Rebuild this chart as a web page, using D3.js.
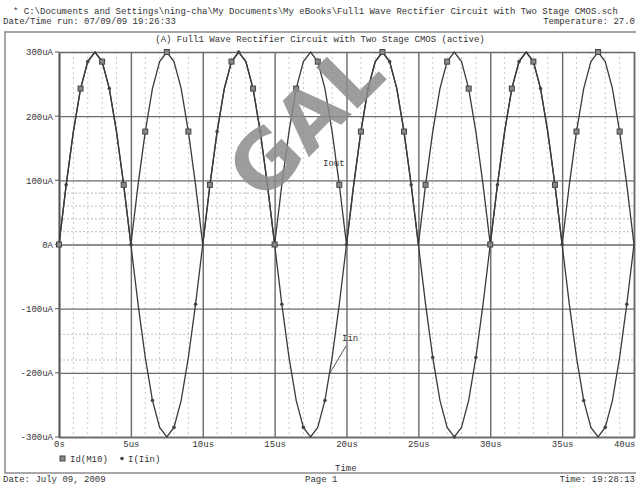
<!DOCTYPE html>
<html>
<head>
<meta charset="utf-8">
<script src="https://cdn.jsdelivr.net/npm/d3@7"></script>
<style>
  body { margin: 0; background: #fff; }
  text { font-family: "Liberation Mono", "DejaVu Sans Mono", monospace; font-size: 9px; fill: #333; }
</style>
</head>
<body>
<svg id="chart" width="636" height="484"></svg>
<script>
// simulation samples, time in us, currents in uA
var timeUs = [0,0.5,1,1.5,2,2.5,3,3.5,4,4.5,5,5.5,6,6.5,7,7.5,8,8.5,9,9.5,
  10,10.5,11,11.5,12,12.5,13,13.5,14,14.5,15,15.5,16,16.5,17,17.5,18,18.5,19,19.5,
  20,20.5,21,21.5,22,22.5,23,23.5,24,24.5,25,25.5,26,26.5,27,27.5,28,28.5,29,29.5,
  30,30.5,31,31.5,32,32.5,33,33.5,34,34.5,35,35.5,36,36.5,37,37.5,38,38.5,39,39.5,40];

var iin = [0,93,176,243,285,300,285,243,176,93,0,-93,-176,-243,-285,-300,-285,-243,-176,-93,
  0,93,176,243,285,300,285,243,176,93,0,-93,-176,-243,-285,-300,-285,-243,-176,-93,
  0,93,176,243,285,300,285,243,176,93,0,-93,-176,-243,-285,-300,-285,-243,-176,-93,
  0,93,176,243,285,300,285,243,176,93,0,-93,-176,-243,-285,-300,-285,-243,-176,-93,0];

var iout = [0,93,176,243,285,300,285,243,176,93,0,93,176,243,285,300,285,243,176,93,
  0,93,176,243,285,300,285,243,176,93,0,93,176,243,285,300,285,243,176,93,
  0,93,176,243,285,300,285,243,176,93,0,93,176,243,285,300,285,243,176,93,
  0,93,176,243,285,300,285,243,176,93,0,93,176,243,285,300,285,243,176,93,0];

var xTicks = [0,5,10,15,20,25,30,35,40];
var xTickLabels = ["0s","5us","10us","15us","20us","25us","30us","35us","40us"];
var yTicks = [-300,-200,-100,0,100,200,300];
var yTickLabels = ["-300uA","-200uA","-100uA","0A","100uA","200uA","300uA"];
var yMinorTicks = [20,40,60,80,-140,-180];

var svg = d3.select("#chart");

var x = d3.scaleLinear().domain([0, 40]).range([59, 634]);
var y = d3.scaleLinear().domain([-300, 300]).range([437, 52]);

// header texts
svg.append("text").attr("x", 13).attr("y", 14)
    .text("* C:\\Documents and Settings\\ning-cha\\My Documents\\My eBooks\\Full1 Wave Rectifier Circuit with Two Stage CMOS.sch");
svg.append("text").attr("x", 3).attr("y", 24).text("Date/Time run: 07/09/09 19:26:33");
svg.append("text").attr("x", 635).attr("y", 24).attr("text-anchor", "end").text("Temperature: 27.0");

// outer frame
svg.append("rect")
    .attr("x", 5).attr("y", 32)
    .attr("width", 640).attr("height", 441)
    .attr("fill", "none")
    .attr("stroke", "#8a8a8a")
    .attr("stroke-width", 1.5);

svg.append("text").attr("x", 320).attr("y", 42).attr("text-anchor", "middle")
    .text("(A) Full1 Wave Rectifier Circuit with Two Stage CMOS (active)");

// minor dotted grid
var minorX = [];
for (var t = 1; t < 40; t++) { if (t % 5 != 0) minorX.push(t); }

svg.append("g").selectAll("line")
    .data(minorX)
    .enter().append("line")
    .attr("x1", d => x(d)).attr("x2", d => x(d))
    .attr("y1", y(300)).attr("y2", y(-300))
    .attr("stroke", "#c8c8c8")
    .attr("stroke-dasharray", "2,3");

svg.append("g").selectAll("line")
    .data(yMinorTicks)
    .enter().append("line")
    .attr("x1", x(0)).attr("x2", x(40))
    .attr("y1", d => y(d)).attr("y2", d => y(d))
    .attr("stroke", "#bdbdbd")
    .attr("stroke-dasharray", "2,2");

// major grid + axes
var xAxis = d3.axisBottom(x)
    .tickValues(xTicks)
    .tickFormat((d, i) => xTickLabels[i])
    .tickSize(-(y(-300) - y(300)))
    .tickPadding(4);

var yAxis = d3.axisLeft(y)
    .tickValues(yTicks)
    .tickFormat((d, i) => yTickLabels[i])
    .tickSizeInner(-(x(40) - x(0)))
    .tickSizeOuter(0)
    .tickPadding(6);

var gx = svg.append("g")
    .attr("transform", "translate(0," + y(-300) + ")")
    .call(xAxis);
gx.select(".domain").attr("stroke", "#555").attr("stroke-width", 1.5);
gx.selectAll(".tick line").attr("stroke", "#6a6a6a").attr("stroke-width", 1.4);
gx.selectAll(".tick text").attr("font-size", 9).attr("font-family", "Liberation Mono").attr("fill", "#333")
    .attr("text-anchor", (d, i) => i == xTicks.length - 1 ? "end" : "middle")
    .attr("dx", (d, i) => i == xTicks.length - 1 ? 1 : 0);

var gy = svg.append("g")
    .attr("transform", "translate(" + x(0) + ",0)")
    .call(yAxis);
gy.select(".domain").attr("stroke", "#555").attr("stroke-width", 1.5);
gy.selectAll(".tick line").attr("stroke", "#6a6a6a").attr("stroke-width", 1.4);
gy.selectAll(".tick text").attr("font-size", 9).attr("font-family", "Liberation Mono").attr("fill", "#333");

// small outside ticks on the left axis
svg.append("g").selectAll("line")
    .data(yTicks)
    .enter().append("line")
    .attr("x1", x(0) - 4).attr("x2", x(0))
    .attr("y1", d => y(d)).attr("y2", d => y(d))
    .attr("stroke", "#555");

// curves
var line = d3.line()
    .x((d, i) => x(timeUs[i]))
    .y(d => y(d));

svg.append("path")
    .datum(iin)
    .attr("d", line)
    .attr("fill", "none")
    .attr("stroke", "#3a3a3a")
    .attr("stroke-width", 1.3);

svg.append("path")
    .datum(iout)
    .attr("d", line)
    .attr("fill", "none")
    .attr("stroke", "#3a3a3a")
    .attr("stroke-width", 1.3);

// markers (every third sample)
var outIdx = d3.range(0, timeUs.length, 3);
var inIdx = d3.range(1, timeUs.length, 3);

svg.append("g").selectAll("rect")
    .data(outIdx)
    .enter().append("rect")
    .attr("x", i => x(timeUs[i]) - 2.5)
    .attr("y", i => y(iout[i]) - 2.5)
    .attr("width", 5).attr("height", 5)
    .attr("fill", "#888")
    .attr("stroke", "#444");

svg.append("g").selectAll("circle")
    .data(inIdx)
    .enter().append("circle")
    .attr("cx", i => x(timeUs[i]))
    .attr("cy", i => y(iin[i]))
    .attr("r", 1.8)
    .attr("fill", "#444");

// curve labels
svg.append("text").attr("x", 323).attr("y", 166).text("Iout");
svg.append("text").attr("x", 342).attr("y", 341).text("Iin");
svg.append("line")
    .attr("x1", 346).attr("y1", 346)
    .attr("x2", 330).attr("y2", 373)
    .attr("stroke", "#555");

// legend + x title
svg.append("rect").attr("x", 60).attr("y", 456).attr("width", 5).attr("height", 5)
    .attr("fill", "#888").attr("stroke", "#444");
svg.append("text").attr("x", 70).attr("y", 462).text("Id(M10)");
svg.append("circle").attr("cx", 122).attr("cy", 458.5).attr("r", 1.8).attr("fill", "#444");
svg.append("text").attr("x", 128).attr("y", 462).text("I(Iin)");
svg.append("text").attr("x", 335).attr("y", 471).text("Time");

// footer
svg.append("text").attr("x", 3).attr("y", 482).text("Date: July 09, 2009");
svg.append("text").attr("x", 305).attr("y", 482).text("Page 1");
svg.append("text").attr("x", 635).attr("y", 482).attr("text-anchor", "end").text("Time: 19:28:13");

// watermark
svg.append("text")
    .attr("transform", "translate(262,204) rotate(-45)")
    .style("font-family", "DejaVu Sans")
    .style("font-weight", "bold")
    .style("font-size", "80px")
    .style("fill", "#8c8c8c")
    .style("fill-opacity", 0.85)
    .text("GAL");
</script>
</body>
</html>
